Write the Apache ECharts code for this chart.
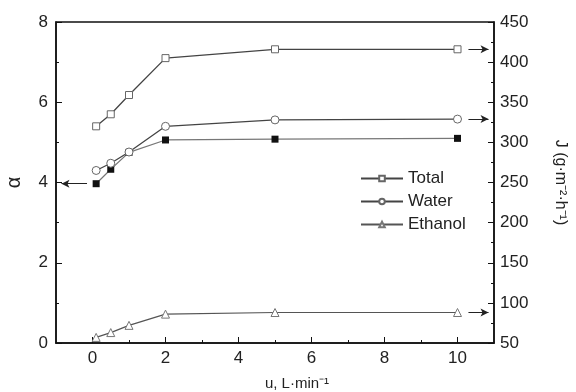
<!DOCTYPE html>
<html>
<head>
<meta charset="utf-8">
<script src="https://cdn.jsdelivr.net/npm/echarts@6/dist/echarts.min.js"></script>
<style>
  html, body { margin: 0; padding: 0; background: #fff; }
  #chart { width: 576px; height: 392px; }
</style>
</head>
<body>
<div id="chart"></div>
<script>
// flow rate u (L/min)
const uVals = [0.1, 0.5, 1, 2, 5, 10]
// separation factor, left axis
const alpha = [3.97, 4.33, 4.75, 5.06, 5.08, 5.1]
// fluxes J, right axis
const total = [320, 335, 359, 405, 416, 416]
const water = [265, 274, 288, 320, 328, 329]
const ethanol = [57, 63, 72, 86, 88, 88]
const xMajor = [0, 2, 4, 6, 8, 10]
const xMinor = [1, 3, 5, 7, 9]

const font = 'Liberation Sans, Arial, sans-serif'
const pairs = (ys) => uVals.map((x, i) => [x, ys[i]])

const arrowRight = (y) => ({
  silent: true,
  symbol: ['none', 'arrow'],
  symbolSize: [6, 8],
  label: { show: false },
  lineStyle: { color: '#222', width: 1, type: 'solid' },
  data: [[{ coord: [10.3, y] }, { coord: [10.85, y] }]],
})

const chart = echarts.init(document.getElementById('chart'))

chart.setOption({
  animation: false,
  textStyle: { fontFamily: font },
  grid: {
    left: 56, right: 82, top: 22, bottom: 49,
    outerBoundsMode: 'none',
    show: true, borderColor: '#111', borderWidth: 1.5,
  },
  legend: {
    data: ['Total', 'Water', 'Ethanol'],
    orient: 'vertical',
    left: 355,
    top: 165,
    itemWidth: 42,
    itemHeight: 7,
    itemGap: 6,
    textStyle: { fontSize: 17, color: '#222', fontFamily: font },
  },
  xAxis: [
    {
      type: 'value',
      min: -1,
      max: 11,
      interval: 1,
      name: 'u, L·min⁻¹',
      nameLocation: 'middle',
      nameGap: 33,
      nameTextStyle: { fontSize: 15, color: '#222', padding: [0, 0, 0, 44] },
      axisLine: { onZero: false, lineStyle: { color: '#111', width: 1.5 } },
      axisTick: { inside: true, length: 6, customValues: xMajor, lineStyle: { color: '#111' } },
      axisLabel: { customValues: xMajor, fontSize: 17, color: '#222', margin: 7 },
      splitLine: { show: false },
    },
    {
      type: 'value',
      min: -1,
      max: 11,
      position: 'bottom',
      axisLine: { show: false, onZero: false },
      axisTick: { inside: true, length: 3, customValues: xMinor, lineStyle: { color: '#111' } },
      axisLabel: { show: false },
      splitLine: { show: false },
    },
  ],
  yAxis: [
    {
      type: 'value',
      min: 0,
      max: 8,
      interval: 2,
      name: 'α',
      nameLocation: 'middle',
      nameGap: 32,
      nameRotate: 90,
      nameTextStyle: { fontSize: 20, color: '#222' },
      axisLine: { show: true, onZero: false, lineStyle: { color: '#111', width: 1.5 } },
      axisTick: { inside: true, length: 6, lineStyle: { color: '#111' } },
      minorTick: { show: true, splitNumber: 2, length: 3, lineStyle: { color: '#111' } },
      axisLabel: { fontSize: 17, color: '#222', margin: 8 },
      splitLine: { show: false },
    },
    {
      type: 'value',
      min: 50,
      max: 450,
      interval: 50,
      position: 'right',
      name: 'J (g·m⁻²·h⁻¹)',
      nameLocation: 'middle',
      nameGap: 58,
      nameRotate: -90,
      nameTextStyle: { fontSize: 16, color: '#222' },
      axisLine: { show: true, onZero: false, lineStyle: { color: '#111', width: 1.5 } },
      axisTick: { inside: true, length: 6, lineStyle: { color: '#111' } },
      minorTick: { show: true, splitNumber: 2, length: 3, lineStyle: { color: '#111' } },
      axisLabel: { fontSize: 17, color: '#222', margin: 6 },
      splitLine: { show: false },
    },
  ],
  series: [
    {
      name: 'α',
      type: 'line',
      yAxisIndex: 0,
      data: pairs(alpha),
      symbol: 'rect',
      symbolSize: 7,
      lineStyle: { color: '#777', width: 1.2 },
      itemStyle: { color: '#111' },
      z: 3,
      markLine: {
        silent: true,
        symbol: ['none', 'arrow'],
        symbolSize: [6, 8],
        label: { show: false },
        lineStyle: { color: '#222', width: 1, type: 'solid' },
        data: [[{ coord: [-0.15, alpha[0]] }, { coord: [-0.85, alpha[0]] }]],
      },
    },
    {
      name: 'Total',
      type: 'line',
      yAxisIndex: 1,
      data: pairs(total),
      symbol: 'rect',
      symbolSize: 7,
      lineStyle: { color: '#444', width: 1.3 },
      itemStyle: { color: '#fff', borderColor: '#666', borderWidth: 1 },
      markLine: arrowRight(total[5]),
    },
    {
      name: 'Water',
      type: 'line',
      yAxisIndex: 1,
      data: pairs(water),
      symbol: 'circle',
      symbolSize: 8,
      lineStyle: { color: '#444', width: 1.3 },
      itemStyle: { color: '#fff', borderColor: '#666', borderWidth: 1 },
      z: 4,
      markLine: arrowRight(water[5]),
    },
    {
      name: 'Ethanol',
      type: 'line',
      yAxisIndex: 1,
      data: pairs(ethanol),
      symbol: 'triangle',
      symbolSize: 8,
      lineStyle: { color: '#555', width: 1.2 },
      itemStyle: { color: '#fff', borderColor: '#777', borderWidth: 1 },
      markLine: arrowRight(ethanol[5]),
    },
  ],
})
</script>
</body>
</html>
